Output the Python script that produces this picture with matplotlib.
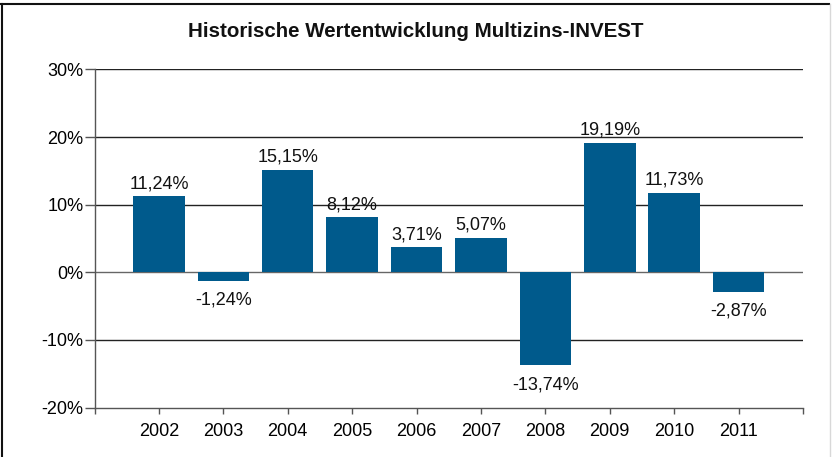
import matplotlib
matplotlib.use("Agg")
import matplotlib.pyplot as plt
from matplotlib.lines import Line2D
from matplotlib.ticker import FuncFormatter

years = ["2002", "2003", "2004", "2005", "2006", "2007", "2008", "2009", "2010", "2011"]
returns = [11.24, -1.24, 15.15, 8.12, 3.71, 5.07, -13.74, 19.19, 11.73, -2.87]
y_ticks = [-20, -10, 0, 10, 20, 30]
title = "Historische Wertentwicklung Multizins-INVEST"

plt.rcParams["font.family"] = ["Liberation Sans", "DejaVu Sans"]

fig = plt.figure(figsize=(8.32, 4.57), dpi=100)
W, H = 832, 457
ax = fig.add_axes([94.5 / W, 1 - 407.5 / H, (803 - 94.5) / W, (407.5 - 69.5) / H])

x = list(range(len(years)))
ax.bar(x, returns, width=0.8, color="#005a8c", zorder=3)
ax.set_xlim(-1, len(years))
ax.set_ylim(-20, 30)
ax.set_yticks(y_ticks)
ax.yaxis.set_major_formatter(FuncFormatter(lambda v, p: f"{int(v)}%"))
ax.set_xticks([-1] + x + [len(years)])
ax.set_xticklabels([""] + years + [""])
ax.tick_params(axis="x", length=4, width=1, color="#555555", direction="out",
               labelsize=13, pad=7)
ax.tick_params(axis="y", length=7, width=1, color="#555555", labelsize=13, pad=1)

for s in ["top", "right"]:
    ax.spines[s].set_visible(False)
for s in ["left", "bottom"]:
    ax.spines[s].set_color("#555555")
    ax.spines[s].set_linewidth(1)

for v in y_ticks[1:]:
    ax.axhline(v, color="#222222" if v != 0 else "#666666", linewidth=1, zorder=2)

for xi, v in zip(x, returns):
    lbl = f"{v:.2f}%".replace(".", ",")
    if v >= 0:
        ax.annotate(lbl, (xi, v), xytext=(0, 3), textcoords="offset points",
                    ha="center", va="bottom", fontsize=13, color="#111111")
    else:
        ax.annotate(lbl, (xi, v), xytext=(0, -8), textcoords="offset points",
                    ha="center", va="top", fontsize=13, color="#111111")

fig.text(416 / W, 1 - 31.5 / H, title, ha="center", va="center",
         fontsize=14.8, fontweight="bold", color="#111111")

# frame
fig.add_artist(Line2D([0, 829 / W], [1 - 4 / H, 1 - 4 / H], transform=fig.transFigure,
                      color="#111111", linewidth=1.5))
fig.add_artist(Line2D([2 / W, 2 / W], [0, 1 - 4 / H], transform=fig.transFigure,
                      color="#111111", linewidth=1.5))
fig.add_artist(Line2D([829.5 / W, 829.5 / W], [0, 1 - 4 / H], transform=fig.transFigure,
                      color="#d8d8d8", linewidth=1))

fig.savefig("out.png", dpi=100)
